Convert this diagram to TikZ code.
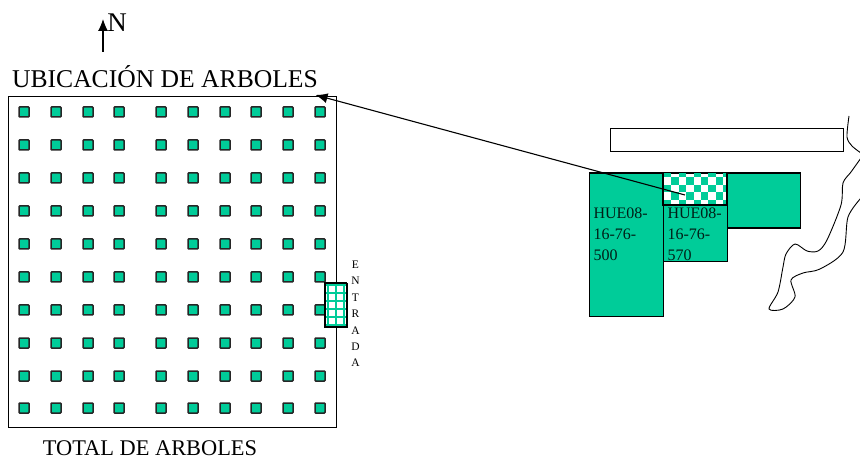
\documentclass[tikz,border=0pt]{standalone}
\usepackage{fontspec}
\setmainfont{Liberation Serif}
\usepackage{xcolor}
\usetikzlibrary{positioning,arrows.meta}
\definecolor{lote}{HTML}{00CC99}
\tikzset{
    arbol/.style={draw=black!85, fill=lote, line width=1.5pt, minimum size=10pt, inner sep=0pt, rounded corners=0.8pt},
    parcela/.style={draw, fill=lote, line width=1.1pt, inner sep=0pt, anchor=north west},
    rotulo/.style={inner sep=0pt, align=left, anchor=north west, font=\fontsize{16}{21}\selectfont, text=black!85!lote},
    flecha/.style={-{Latex[length=12pt,width=10pt]}, line width=1.1pt},
}
\begin{document}
\begin{tikzpicture}[x=1pt, y=-1pt, line width=1.1pt]
    \useasboundingbox (0,0) rectangle (860,457);
    % rotulos
    \coordinate (surN) at (103,52);
    \coordinate (norte) at (103,19);
    \draw[flecha] (surN) -- (norte);
    \node[inner sep=0pt, font=\fontsize{27}{27}\selectfont] (letraN) at (117,23) {N};
    \node[inner sep=0pt, font=\fontsize{25.6}{26}\selectfont] (titulo) at (165,77) {UBICACIÓN DE ARBOLES};
    \node[inner sep=0pt, anchor=base, font=\fontsize{22.4}{23}\selectfont] (total) at (150,455) {TOTAL DE ARBOLES};

    % terreno con arboles
    \node[draw, inner sep=0pt, minimum width=328pt, minimum height=331pt, anchor=north west] (terreno) at (8,96) {};
    \foreach \x in {24,56,88,119,161,193,225,256,288,320}
        \foreach \y in {112,145,178,211,244,277,310,343,376,408}
            \node[arbol] (a-\x-\y) at (\x,\y) {};

    % entrada
    \node[draw, fill=white, inner sep=0pt, minimum width=21.5pt, minimum height=44pt, anchor=north west] (entrada) at (325,283) {};
    \foreach \x in {328,336,344}
        \draw[lote, line width=2.4pt] (\x,284) -- (\x,326);
    \foreach \y in {285,293,301,309,317,325}
        \draw[lote, line width=2.4pt] (326,\y) -- (346,\y);
    \draw (325,283) rectangle (346.5,327);
    \node[inner sep=0pt, align=center, font=\fontsize{11.5}{16.4}\selectfont, anchor=north] (txtEntrada) at (355.5,260.5) {E\\N\\T\\R\\A\\D\\A};

    % plano de ubicacion
    \node[draw, fill=white, inner sep=0pt, minimum width=233pt, minimum height=23pt, anchor=north west] (camino) at (610,128) {};
    \node[parcela, minimum width=74pt, minimum height=143.5pt] (lote500) at (589,172.5) {};
    \node[parcela, minimum width=63.5pt, minimum height=56pt] (lote570) at (663,205) {};
    \node[parcela, minimum width=73.5pt, minimum height=55pt] (loteE) at (726.5,172.5) {};
    \node[parcela, fill=white, minimum width=63.5pt, minimum height=32.5pt] (muestra) at (663,172.5) {};
    \begin{scope}
        \clip (663,172.5) rectangle (726.5,205);
        \foreach \i in {0,...,8}
            \foreach \j in {0,...,4} {
                \pgfmathtruncatemacro{\suma}{\i+\j}
                \ifodd\suma\else
                    \fill[lote] (664+\i*7.4,169.5+\j*7.6) rectangle ++(7.4,7.6);
                \fi
            }
    \end{scope}
    \draw (663,172.5) rectangle (726.5,205);
    \node[rotulo] (txt500) at (593,207) {HUE08-\\16-76-\\500};
    \begin{scope}
        \clip (663,205) rectangle (726.5,261);
        \node[rotulo] (txt570) at (667,207) {HUE08-\\16-76-\\570};
    \end{scope}

    % flecha
    \coordinate (origen) at (685,195);
    \coordinate (destino) at (315.5,95);
    \draw[flecha] (origen) -- (destino);

    % rio
    \begin{scope}
        \clip (760,100) rectangle (860,320);
        \draw[line width=0.9pt] plot[smooth, tension=0.5] coordinates {(849,116) (847,137) (852,146) (861,153)};
        \draw[line width=0.9pt] plot[smooth, tension=0.5] coordinates {(861,158) (851,172) (843,183) (841,205) (827,240) (818,251) (807,251) (795,244) (786,254) (783,267) (778,292) (769,309) (783,309) (795,297) (791,280) (803,273) (820,269) (843,252) (848,217) (861,198)};
    \end{scope}
\end{tikzpicture}
\end{document}
